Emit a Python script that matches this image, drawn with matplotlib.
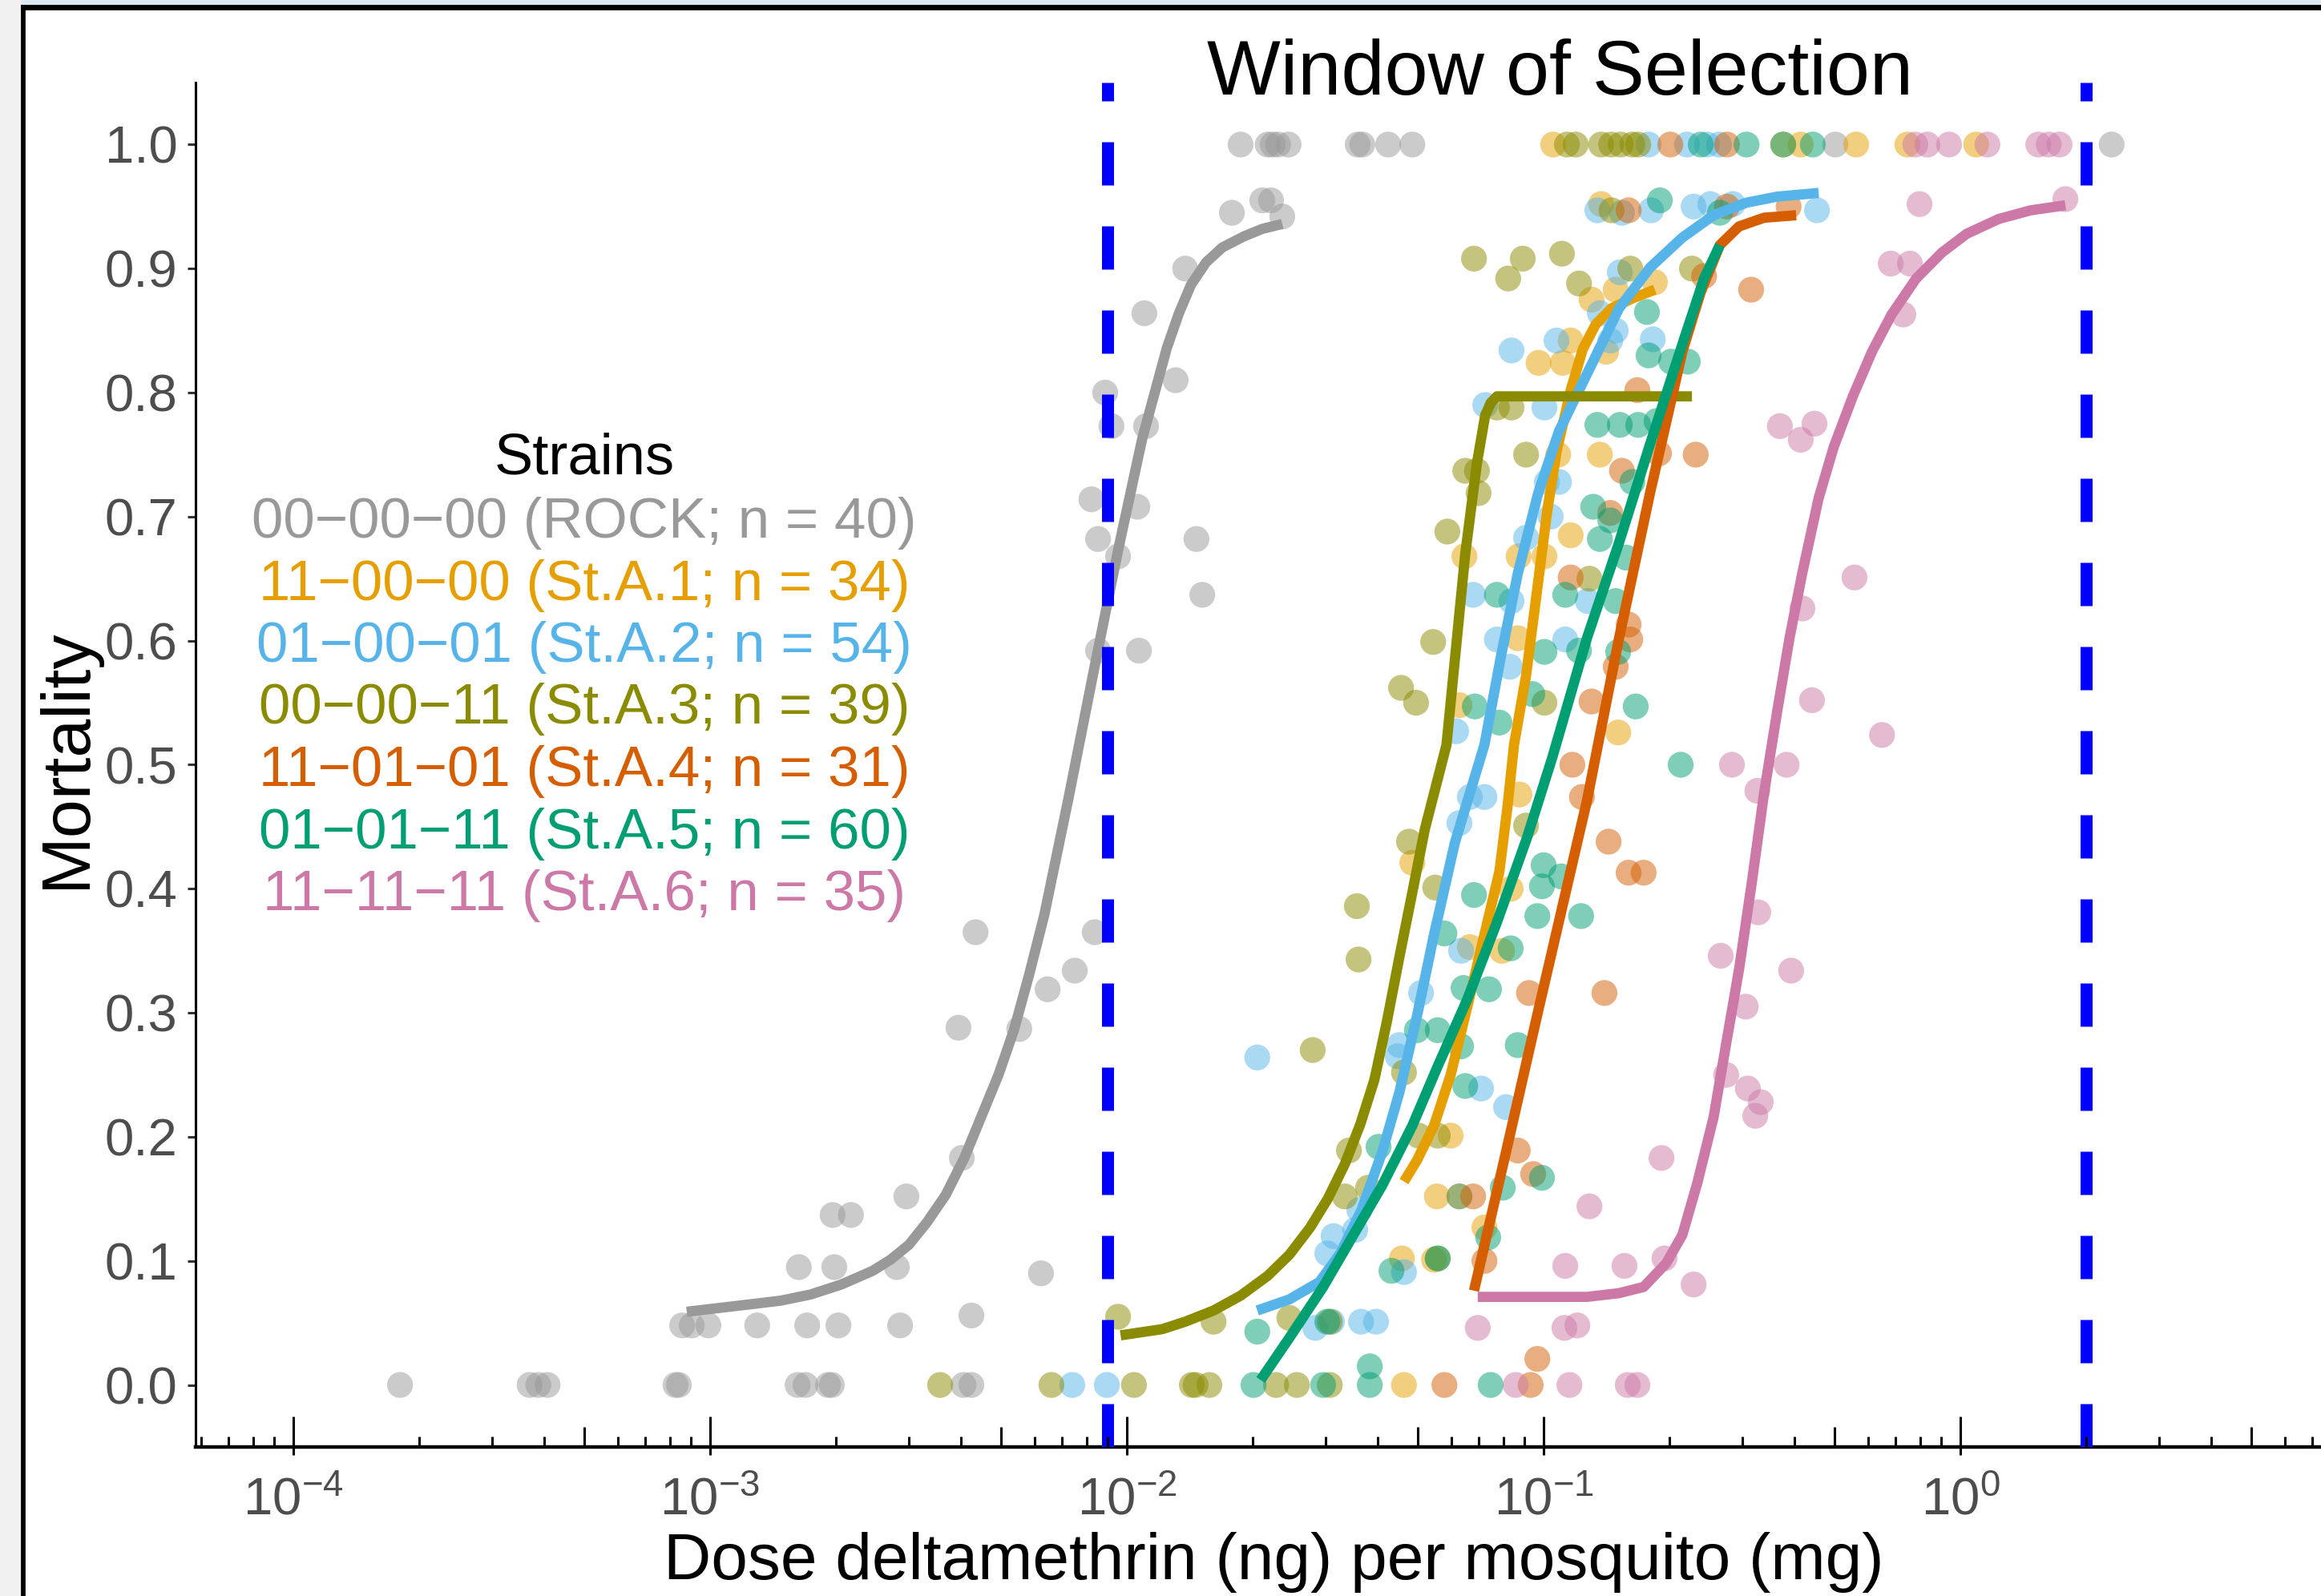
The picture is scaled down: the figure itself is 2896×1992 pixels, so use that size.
import numpy as np
import matplotlib
matplotlib.use("Agg")
import matplotlib.pyplot as plt
from matplotlib.patches import Rectangle
from matplotlib.transforms import blended_transform_factory

plt.rcParams['font.family'] = ['Liberation Sans', 'DejaVu Sans']
plt.rcParams['mathtext.fontset'] = 'custom'
plt.rcParams['mathtext.rm'] = 'Liberation Sans'
plt.rcParams['mathtext.sf'] = 'Liberation Sans'
plt.rcParams['mathtext.it'] = 'Liberation Sans:italic'
plt.rcParams['mathtext.bf'] = 'Liberation Sans:bold'

# ---------------- data (log10 dose, mortality) ----------------
labels = ["00\u221200\u221200 (ROCK; n = 40)",
          "11\u221200\u221200 (St.A.1; n = 34)",
          "01\u221200\u221201 (St.A.2; n = 54)",
          "00\u221200\u221211 (St.A.3; n = 39)",
          "11\u221201\u221201 (St.A.4; n = 31)",
          "01\u221201\u221211 (St.A.5; n = 60)",
          "11\u221211\u221211 (St.A.6; n = 35)"]
colors = ["#999999", "#E69F00", "#56B4E9", "#8B8B00", "#D55E00", "#009E73", "#CC79A7"]

rock_logdose = [-3.744, -3.433, -3.412, -3.390, -3.083, -3.075, -2.790, -2.771, -2.717, -2.708, -2.392, -2.373,
                -3.067, -3.044, -3.004, -2.887, -2.767, -2.692, -2.544, -2.373,
                -2.787, -2.702, -2.552, -2.206, -2.706, -2.662, -2.529, -2.396,
                -2.404, -2.258, -2.190, -2.125, -2.363, -2.077,
                -1.971, -2.069, -1.819, -1.833, -2.069, -2.021, -2.085, -1.975,
                -2.037, -1.954, -2.052, -1.883, -1.958, -1.860, -1.748, -1.675, -1.654, -1.627,
                -1.727, -1.662, -1.650, -1.637, -1.612, -1.446, -1.435, -1.373, -1.315, -0.300, 0.363]
rock_mort = [0, 0, 0, 0, 0, 0, 0, 0, 0, 0, 0, 0,
             0.048, 0.048, 0.048, 0.048, 0.048, 0.048, 0.048, 0.056,
             0.095, 0.095, 0.095, 0.090, 0.137, 0.137, 0.152, 0.183,
             0.288, 0.287, 0.319, 0.334, 0.365, 0.365,
             0.592, 0.592, 0.637, 0.682, 0.682, 0.668, 0.714, 0.708,
             0.773, 0.773, 0.800, 0.810, 0.864, 0.900, 0.945, 0.955, 0.955, 0.942,
             1, 1, 1, 1, 1, 1, 1, 1, 1, 1, 1]

sta1_logdose = [-0.862, -0.733, -0.885, -0.827, -0.935, -0.850, -1.012, -0.954, -0.965, -0.865,
                -1.190, -1.060, -0.998, -0.935, -1.062, -1.202, -0.821, -1.058, -1.079, -1.315,
                -1.177, -1.100, -1.223, -1.256, -1.340, -1.263, -1.142, -1.335,
                -0.977, -0.425, -0.383, -0.250, 0.038, -0.127]
sta1_mort = [0.952, 0.889, 0.875, 0.883, 0.842, 0.833, 0.824, 0.824, 0.750, 0.750,
             0.668, 0.668, 0.668, 0.685, 0.602, 0.548, 0.526, 0.476, 0.400, 0.421,
             0.353, 0.350, 0.201, 0.152, 0.102, 0.101, 0.127, 0,
             1, 1, 1, 1, 1, 1]

sta2_logdose = [-0.871, -0.812, -0.742, -0.640, -0.600, -0.546, -0.344, -0.817, -1.077, -0.969,
                -0.827, -0.840, -0.738, -0.865, -0.998, -1.140, -0.992, -0.963, -0.983, -1.042,
                -1.169, -1.077, -0.894, -1.112, -0.948, -1.081, -1.210, -1.177, -1.142, -1.202,
                -1.198, -1.294, -1.346, -1.350, -1.150, -1.090, -1.687, -1.504, -1.519, -1.452,
                -1.442, -1.335, -1.202, -1.548, -1.508, -1.438, -1.402, -2.131, -2.048,
                -0.748, -0.656, -0.608, -0.579]
sta2_mort = [0.947, 0.945, 0.947, 0.950, 0.952, 0.952, 0.947, 0.897, 0.834, 0.842,
             0.850, 0.842, 0.843, 0.864, 0.788, 0.790, 0.728, 0.728, 0.700, 0.683,
             0.637, 0.632, 0.632, 0.601, 0.601, 0.579, 0.527, 0.474, 0.474, 0.453,
             0.350, 0.316, 0.274, 0.265, 0.239, 0.224, 0.264, 0.120, 0.106, 0.125,
             0.141, 0.091, 0.152, 0.046, 0.051, 0.051, 0.051, 0, 0,
             1, 1, 1, 1]

sta3_logdose = [-1.167, -1.085, -1.050, -0.956, -0.915, -0.792, -0.644, -1.112, -1.077, -1.188,
                -1.160, -1.156, -1.042, -1.231, -0.890, -1.265, -1.342, -1.306, -0.998, -0.837,
                -1.323, -1.260, -1.448, -1.444, -1.554, -1.042, -1.335, -1.467, -1.477, -1.421,
                -1.300, -1.254, -1.202, -1.254, -1.792, -1.610, -1.513, -2.021,
                -2.448, -2.181, -1.983, -1.844, -1.835, -1.802, -1.642, -1.592, -1.513,
                -0.944, -0.923, -0.862, -0.838, -0.815, -0.787, -0.773]
sta3_mort = [0.908, 0.892, 0.908, 0.912, 0.888, 0.900, 0.900, 0.788, 0.788, 0.737,
             0.737, 0.719, 0.750, 0.688, 0.650, 0.599, 0.562, 0.550, 0.550, 0.947,
             0.438, 0.401, 0.386, 0.343, 0.270, 0.451, 0.252, 0.189, 0.152, 0.159,
             0.201, 0.201, 0.152, 0.102, 0.051, 0.054, 0.051, 0.055,
             0, 0, 0, 0, 0, 0, 0, 0, 0,
             1, 1, 1, 1, 1, 1, 1]

sta4_logdose = [-0.615, -0.502, -0.775, -0.635, -0.723, -0.812, -0.840, -0.935, -0.796, -0.792,
                -0.827, -0.885, -0.796, -0.931, -0.908, -0.844, -0.796, -0.760, -1.035, -0.854,
                -1.062, -1.025, -1.169, -1.142, -1.015, -1.238, -1.031,
                -0.696, -0.560, -0.560, -0.412]
sta4_mort = [0.894, 0.883, 0.802, 0.750, 0.751, 0.737, 0.703, 0.651, 0.613, 0.601,
             0.579, 0.551, 0.947, 0.500, 0.474, 0.438, 0.413, 0.413, 0.316, 0.316,
             0.189, 0.170, 0.152, 0.100, 0.021, 0, 0,
             1, 1, 0.950, 0.950]

sta5_logdose = [-0.721, -0.577, -0.752, -0.748, -0.694, -0.654, -0.871, -0.817, -0.773, -0.729,
                -0.787, -0.881, -0.840, -0.865, -0.802, -0.948, -0.827, -1.112, -0.998, -0.915,
                -0.821, -1.027, -1.165, -0.779, -1.106, -0.671, -1.000, -0.958, -1.004, -1.167,
                -1.015, -0.910, -1.238, -1.079, -1.192, -1.131, -1.304, -1.254, -1.198, -1.062,
                -1.188, -1.396, -1.098, -1.004, -1.133, -1.365, -1.254, -1.687, -1.519, -1.417,
                -1.696, -1.529, -1.417, -1.127,
                -0.623, -0.513, -0.425, -0.354]
sta5_mort = [0.955, 0.945, 0.865, 0.830, 0.825, 0.825, 0.774, 0.774, 0.774, 0.777,
             0.728, 0.708, 0.697, 0.682, 0.667, 0.637, 0.632, 0.637, 0.591, 0.592,
             0.591, 0.557, 0.547, 0.547, 0.534, 0.500, 0.419, 0.410, 0.402, 0.395,
             0.378, 0.378, 0.364, 0.352, 0.320, 0.319, 0.286, 0.286, 0.273, 0.274,
             0.241, 0.192, 0.159, 0.167, 0.119, 0.092, 0.102, 0.043, 0.051, 0.015,
             0, 0, 0, 0,
             1, 1, 1, 1]

sta6_logdose = [-0.098, 0.252, -0.167, -0.121, -0.137, -0.433, -0.350, -0.383, -0.254, -0.379,
                -0.356, -0.188, -0.548, -0.417, -0.487, -0.485, -0.575, -0.406, -0.515, -0.562,
                -0.510, -0.479, -0.492, -0.717, -0.890, -0.948, -0.806, -0.710, -0.640,
                -1.158, -0.950, -0.919, -1.067, -0.938, -0.798, -0.775,
                -0.108, -0.079, -0.027, 0.065, 0.187, 0.212, 0.238]
sta6_mort = [0.952, 0.956, 0.904, 0.904, 0.863, 0.773, 0.775, 0.762, 0.651, 0.626,
             0.552, 0.524, 0.500, 0.500, 0.479, 0.381, 0.346, 0.334, 0.305, 0.250,
             0.239, 0.228, 0.217, 0.183, 0.144, 0.096, 0.096, 0.102, 0.081,
             0.046, 0.046, 0.048, 0, 0, 0, 0,
             1, 1, 1, 1, 1, 1, 1]

# fitted curves
rock_fit_logdose = [-3.056, -2.980, -2.904, -2.830, -2.758, -2.685, -2.610, -2.567, -2.523, -2.480,
                    -2.435, -2.390, -2.346, -2.308, -2.271, -2.235, -2.198, -2.140, -2.081, -2.021,
                    -1.963, -1.904, -1.875, -1.846, -1.810, -1.771, -1.719, -1.675, -1.627]
rock_fit_mort = [0.059, 0.062, 0.065, 0.068, 0.073, 0.081, 0.092, 0.101, 0.113, 0.131,
                 0.153, 0.183, 0.219, 0.250, 0.286, 0.330, 0.379, 0.473, 0.573, 0.673,
                 0.763, 0.836, 0.864, 0.887, 0.905, 0.917, 0.926, 0.932, 0.936]
sta1_fit_logdose = [-1.335, -1.304, -1.263, -1.223, -1.183, -1.142, -1.106, -1.087, -1.071, -1.042,
                    -1.017, -0.992, -0.969, -0.935, -0.906, -0.875, -0.837, -0.787, -0.733]
sta1_fit_mort = [0.164, 0.181, 0.209, 0.250, 0.305, 0.363, 0.414, 0.465, 0.516, 0.572,
                 0.637, 0.703, 0.752, 0.802, 0.835, 0.855, 0.868, 0.876, 0.883]
sta2_fit_logdose = [-1.687, -1.610, -1.538, -1.488, -1.437, -1.387, -1.346, -1.304, -1.263, -1.213,
                    -1.142, -1.102, -1.062, -1.013, -0.963, -0.896, -0.819, -0.744, -0.667, -0.592,
                    -0.515, -0.440, -0.340]
sta2_fit_mort = [0.060, 0.069, 0.083, 0.106, 0.141, 0.188, 0.236, 0.297, 0.363, 0.437,
                 0.516, 0.588, 0.654, 0.719, 0.769, 0.815, 0.868, 0.901, 0.925, 0.943,
                 0.953, 0.958, 0.961]
sta3_fit_logdose = [-2.015, -1.915, -1.860, -1.792, -1.727, -1.662, -1.610, -1.560, -1.518, -1.477,
                    -1.440, -1.406, -1.376, -1.346, -1.315, -1.285, -1.233, -1.188, -1.160, -1.140,
                    -1.126, -1.112, -1.033, -0.644]
sta3_fit_mort = [0.040, 0.045, 0.051, 0.060, 0.072, 0.088, 0.105, 0.127, 0.150, 0.178,
                 0.210, 0.246, 0.293, 0.345, 0.397, 0.448, 0.516, 0.670, 0.743, 0.782,
                 0.792, 0.797, 0.797, 0.797]
sta4_fit_logdose = [-1.167, -1.088, -1.012, -0.954, -0.896, -0.819, -0.744, -0.667, -0.623, -0.577,
                    -0.531, -0.471, -0.394]
sta4_fit_mort = [0.076, 0.191, 0.303, 0.387, 0.471, 0.602, 0.720, 0.833, 0.881, 0.919,
                 0.934, 0.941, 0.943]
sta5_fit_logdose = [-1.679, -1.610, -1.529, -1.458, -1.387, -1.315, -1.254, -1.183, -1.112, -1.040,
                    -0.979, -0.896, -0.819, -0.744, -0.667, -0.615, -0.577]
sta5_fit_mort = [0.004, 0.038, 0.079, 0.120, 0.161, 0.209, 0.257, 0.311, 0.373, 0.441,
                 0.506, 0.602, 0.679, 0.759, 0.839, 0.892, 0.919]
sta6_fit_logdose = [-1.158, -0.896, -0.819, -0.760, -0.706, -0.667, -0.631, -0.592, -0.562, -0.531,
                    -0.500, -0.471, -0.440, -0.410, -0.379, -0.340, -0.304, -0.258, -0.212, -0.165,
                    -0.106, -0.044, 0.015, 0.092, 0.169, 0.252]
sta6_fit_mort = [0.071, 0.071, 0.074, 0.079, 0.098, 0.121, 0.163, 0.216, 0.275, 0.335,
                 0.406, 0.477, 0.542, 0.602, 0.655, 0.715, 0.756, 0.797, 0.833, 0.863,
                 0.892, 0.913, 0.928, 0.940, 0.947, 0.951]

window_doses = [0.009, 2.0]
y_ticks = [0.0, 0.1, 0.2, 0.3, 0.4, 0.5, 0.6, 0.7, 0.8, 0.9, 1.0]
x_decades = [-4, -3, -2, -1, 0]

points = [(rock_logdose, rock_mort), (sta1_logdose, sta1_mort), (sta2_logdose, sta2_mort),
          (sta3_logdose, sta3_mort), (sta4_logdose, sta4_mort), (sta5_logdose, sta5_mort),
          (sta6_logdose, sta6_mort)]
fits = [(rock_fit_logdose, rock_fit_mort), (sta1_fit_logdose, sta1_fit_mort),
        (sta2_fit_logdose, sta2_fit_mort), (sta3_fit_logdose, sta3_fit_mort),
        (sta4_fit_logdose, sta4_fit_mort), (sta5_fit_logdose, sta5_fit_mort),
        (sta6_fit_logdose, sta6_fit_mort)]

# ---------------- figure ----------------
W, H, DPI = 2896, 1992, 200
fig = plt.figure(figsize=(W / DPI, H / DPI), dpi=DPI)
fig.patch.set_facecolor('white')

def fx(px):
    return px / W

def fy(py):
    return 1 - py / H

# screenshot frame
fig.patches.append(Rectangle((0, 0), fx(27), 1, transform=fig.transFigure, color='#f0f0f0', zorder=0))
fig.patches.append(Rectangle((fx(27), fy(7)), 1, 7 / H, transform=fig.transFigure, color='#dde8f3', zorder=0))
fig.patches.append(Rectangle((fx(27), fy(11)), 1, 4 / H, transform=fig.transFigure, color='black', zorder=1))
fig.patches.append(Rectangle((fx(27), 0), 3 / W, fy(7), transform=fig.transFigure, color='black', zorder=1))

ax_left, ax_right, ax_top, ax_bottom = 244, 2935, 103, 1806
ax = fig.add_axes([fx(ax_left), fy(ax_bottom), (ax_right - ax_left) / W, (ax_bottom - ax_top) / H])
ax.set_facecolor('none')
ax.set_xscale('log')
x_lo = 10 ** ((ax_left - 2446) / 520.0)
x_hi = 10 ** ((ax_right - 2446) / 520.0)
ax.set_xlim(x_lo, x_hi)
ax.set_ylim(-0.05, 1.05)

for (lx, my), c in zip(points, colors):
    ax.scatter(10 ** np.array(lx), my, s=135, color=c, alpha=0.5, edgecolors='none', zorder=2)

for (lx, my), c in zip(fits, colors):
    ax.plot(10 ** np.array(lx), my, color=c, lw=4.6, solid_capstyle='butt', solid_joinstyle='round', zorder=3)

for d in window_doses:
    ax.axvline(d, color='#0000FF', lw=5.4, linestyle=(0, (3.6, 3.4)), zorder=4)

# axes styling
for s in ['top', 'right']:
    ax.spines[s].set_visible(False)
ax.spines['left'].set_linewidth(1.1)
ax.spines['bottom'].set_linewidth(1.6)
ax.spines['left'].set_color('black')
ax.spines['bottom'].set_color('black')

ax.set_yticks(y_ticks)
ax.set_yticklabels([f"{v:.1f}" for v in y_ticks])
ax.tick_params(axis='y', direction='out', length=3.6, width=1.1, color='#333333',
               labelsize=23.5, labelcolor='#4D4D4D', pad=4.5)

ax.set_xticks([10.0 ** k for k in x_decades])
ax.set_xticklabels([r'$\mathregular{10^{%d}}$' % k for k in x_decades])
ax.xaxis.set_minor_locator(matplotlib.ticker.NullLocator())
ax.tick_params(axis='x', direction='out', length=3.6, width=1.1, color='black',
               labelsize=23.5, labelcolor='#4D4D4D', pad=10)

# log ticks inside the panel (annotation_logticks style)
trans = blended_transform_factory(ax.transData, ax.transAxes)
panel_h = ax_bottom - ax_top
for k in range(-5, 2):
    for m in range(1, 10):
        v = m * 10.0 ** k
        if v < x_lo or v > x_hi:
            continue
        tl = 38 if m == 1 else (25 if m == 5 else 13)
        ax.plot([v, v], [0, tl / panel_h], transform=trans, color='black', lw=1.1,
                solid_capstyle='butt', clip_on=False, zorder=5)

# texts
fig.text(fx(1946), fy(118), 'Window of Selection', fontsize=35, ha='center', va='baseline', color='black')
fig.text(fx(1589), fy(1971), 'Dose deltamethrin (ng) per mosquito (mg)', fontsize=29.5,
         ha='center', va='baseline', color='black')
fig.text(fx(106), fy(946), 'Mortality', fontsize=31, rotation=90, rotation_mode='anchor',
         ha='center', va='baseline', color='black')

fig.text(fx(729), fy(592), 'Strains', fontsize=26, ha='center', va='baseline', color='black')
for i, (lab, c) in enumerate(zip(labels, colors)):
    fig.text(fx(729), fy(671 + 77.5 * i), lab, fontsize=25.5, ha='center', va='baseline', color=c)

fig.savefig('out.png', dpi=DPI)
